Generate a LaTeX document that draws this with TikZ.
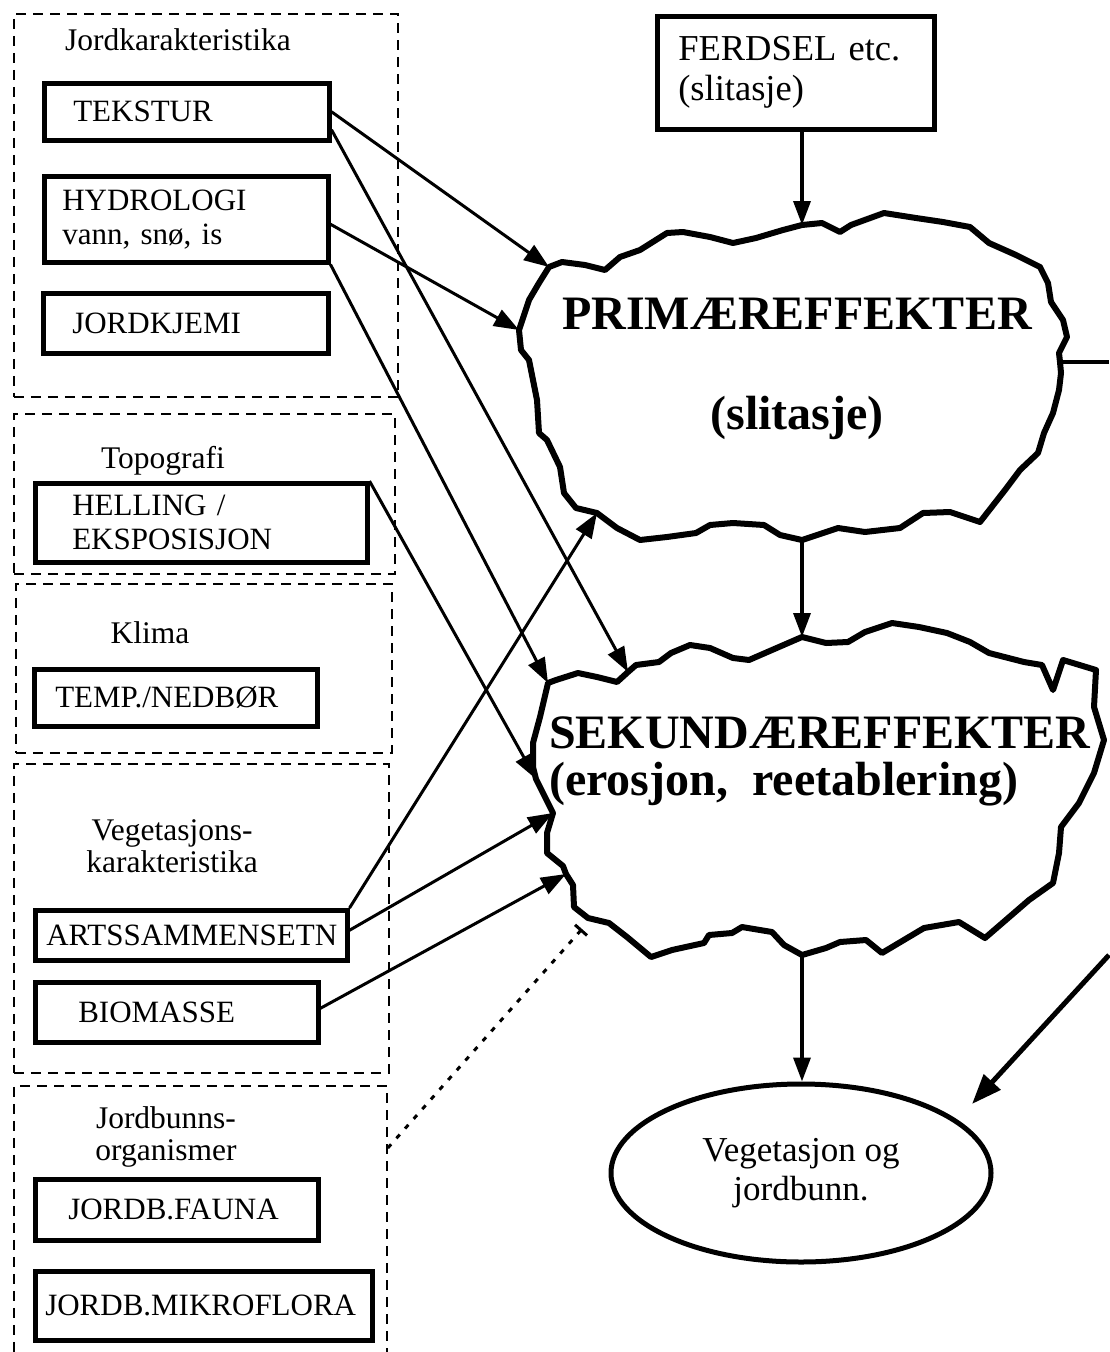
\documentclass[tikz,border=0pt]{standalone}
\usepackage{fontspec}
\setmainfont{Liberation Serif}
\usetikzlibrary{arrows.meta,shapes.geometric}
\begin{document}
\begin{tikzpicture}[x=1pt, y=-1pt,
  grp/.style={draw, line width=1.8pt, dash pattern=on 10pt off 7pt, inner sep=0pt, anchor=north west},
  grplabel/.style={font=\fontsize{31.5}{32}\selectfont, align=center, inner sep=0pt},
  fbox/.style={draw, line width=4.5pt, anchor=north west, align=left, inner ysep=0pt, font=\fontsize{31}{34}\selectfont},
  cloudline/.style={line width=6pt, line join=round},
  cloudtext/.style={font=\bfseries\fontsize{48}{100}\selectfont, inner sep=0pt},
  link/.style={line width=3pt, -{Triangle[length=25pt,width=18pt]}},
  flow/.style={line width=3.5pt, -{Triangle[length=24pt,width=17pt]}},
  feedback/.style={line width=5pt, -{Triangle[length=30pt,width=22pt]}},
  hint/.style={line width=3pt, dash pattern=on 5pt off 8pt, -{Bar[width=16pt]}}
]
\fill[white] (0,0) rectangle (1109,1352);
\useasboundingbox (0,0) rectangle (1109,1352);

% factor groups (dashed frames)
\node[grp, minimum width=384pt, minimum height=383pt] (gJord) at (13,13) {};
\node[grp, minimum width=381pt, minimum height=160pt] (gTopo) at (13,413) {};
\node[grp, minimum width=376pt, minimum height=169pt] (gKlima) at (15,583) {};
\node[grp, minimum width=375pt, minimum height=309pt] (gVeg) at (13,763) {};
\node[grp, minimum width=373pt, minimum height=290pt] (gBunn) at (13,1085) {};

% group headings
\node[grplabel, anchor=base] (lJord) at (178,50) {Jordkarakteristika};
\node[grplabel, anchor=base] (lTopo) at (163,468) {Topografi};
\node[grplabel, anchor=base] (lKlima) at (150,643) {Klima};
\node[grplabel] (lVeg) at (172,846) {Vegetasjons-\\karakteristika};
\node[grplabel] (lBunn) at (166,1137) {Jordbunns-\\organismer};

% factor boxes
\node[fbox, minimum height=57pt, inner xsep=29pt, text width=227pt] (tekstur) at (42,81) {TEKSTUR};
\node[fbox, minimum height=86pt, inner xsep=18pt, text width=248pt] (hydro) at (42,174) {HYDROLOGI\\vann, snø, is};
\node[fbox, minimum height=60pt, inner xsep=29pt, text width=227pt] (kjemi) at (41,291) {JORDKJEMI};
\node[fbox, minimum height=79pt, inner xsep=37pt, text width=258pt] (helling) at (33,481) {HELLING /\\EKSPOSISJON};
\node[fbox, minimum height=57pt, inner xsep=21pt, text width=241pt] (temp) at (32,667) {TEMP./NEDBØR};
\node[fbox, minimum height=50pt, inner xsep=11pt, text width=290pt] (arts) at (33,908) {ARTSSAMMENSETN};
\node[fbox, minimum height=60pt, inner xsep=43pt, text width=197pt] (bio) at (33,980) {BIOMASSE};
\node[fbox, minimum height=61pt, inner xsep=33pt, text width=217pt] (fauna) at (33,1177) {JORDB.FAUNA};
\node[fbox, minimum height=69pt, inner xsep=10pt, text width=317pt] (mikro) at (33,1269) {JORDB.MIKROFLORA};
\node[fbox, minimum height=113pt, inner xsep=21pt, text width=235pt, font=\fontsize{36.5}{40}\selectfont] (ferdsel) at (655,14) {FERDSEL etc.\\(slitasje)};

% primary effects cloud
\coordinate (prim-n) at (802,225);
\coordinate (prim-e) at (1060,362);
\coordinate (prim-s) at (802,540);
\coordinate (prim-sw) at (597,513);
\coordinate (prim-w) at (519,330);
\coordinate (prim-nw) at (549,267);
\draw[cloudline] (prim-n) -- (822,223) -- (840,232) -- (851,225) -- (884,213) -- (916,218) -- (943,222)
  -- (970,227) -- (989,243) -- (1016,255) -- (1040,267) -- (1048,283) -- (1051,302) -- (1063,320)
  -- (1067,337) -- (1059,353) -- (prim-e) -- (1061,373) -- (1059,390) -- (1053,413) -- (1044,433)
  -- (1038,453) -- (1020,470) -- (1005,490) -- (980,522) -- (950,512) -- (923,513) -- (900,528)
  -- (865,532) -- (838,528) -- (prim-s) -- (780,535) -- (764,525) -- (733,523) -- (710,525)
  -- (696,533) -- (667,537) -- (640,540) -- (617,528) -- (prim-sw) -- (576,508) -- (564,493)
  -- (560,467) -- (547,440) -- (539,433) -- (537,400) -- (529,360) -- (521,350) -- (prim-w)
  -- (529,300) -- (539,283) -- (prim-nw) -- (562,262) -- (585,265) -- (605,270) -- (620,257)
  -- (640,250) -- (667,233) -- (683,232) -- (710,237) -- (733,243) -- (756,238) -- (783,230) -- cycle;
\node[cloudtext, align=center] (prim) at (797,369) {PRIMÆREFFEKTER\\(slitasje)};

% secondary effects cloud
\coordinate (sek-n) at (802,637);
\coordinate (sek-s) at (802,955);
\coordinate (sek-sw) at (566,874);
\coordinate (sek-w2) at (553,813);
\coordinate (sek-w) at (536,779);
\coordinate (sek-nw) at (548,683);
\coordinate (sek-tek) at (628,672);
\coordinate (sek-dot) at (582,929);
\draw[cloudline] (sek-n) -- (826,643) -- (848,642) -- (865,632) -- (892,623) -- (919,627) -- (947,633)
  -- (970,642) -- (989,653) -- (1024,662) -- (1042,665) -- (1053,690) -- (1063,660) -- (1096,670)
  -- (1094,707) -- (1104,740) -- (1094,773) -- (1079,803) -- (1061,827) -- (1059,853) -- (1053,883)
  -- (1029,900) -- (985,938) -- (959,922) -- (924,928) -- (882,953) -- (866,940) -- (840,942)
  -- (826,948) -- (sek-s) -- (784,945) -- (772,932) -- (742,927) -- (732,933) -- (709,935)
  -- (704,943) -- (672,950) -- (651,957) -- (627,937) -- (609,923) -- (588,918) -- (574,907)
  -- (573,885) -- (sek-sw) -- (563,866) -- (547,853) -- (547,833) -- (sek-w2) -- (540,787)
  -- (sek-w) -- (533,767) -- (533,743) -- (540,717) -- (sek-nw) -- (556,680) -- (578,673)
  -- (597,677) -- (617,682) -- (sek-tek) -- (636,665) -- (659,662) -- (671,653) -- (690,645)
  -- (710,648) -- (733,658) -- (749,660) -- (772,650) -- cycle;
\node[cloudtext, font=\bfseries\fontsize{48}{47}\selectfont, align=left, anchor=west] (sek) at (549,761)
  {SEKUNDÆREFFEKTER\\(erosjon,\ \ reetablering)};

% outcome
\node[ellipse, draw, line width=5pt, minimum width=380pt, minimum height=178pt, inner sep=0pt,
  font=\fontsize{35}{39}\selectfont, align=center] (veg) at (801,1173) {Vegetasjon og\\jordbunn.};

% main chain
\draw[flow] (ferdsel.south -| prim-n) -- (prim-n);
\draw[flow] (prim-s) -- (sek-n);
\draw[flow] (sek-s) -- (sek-s |- veg.north);

% feedback along the right margin
\coordinate (fb-top) at (1109,362);
\coordinate (fb-bot) at (1109,955);
\coordinate (fb-tip) at (972,1104);
\draw[line width=4.5pt] (prim-e) -- (fb-top);
\draw[feedback] (fb-bot) -- (fb-tip);

% factor influences
\draw[link] (tekstur.east) -- (prim-nw);
\draw[link] ([yshift=-18pt]tekstur.east) -- (sek-tek);
\draw[link] ([yshift=-5pt]hydro.east) -- (prim-w);
\draw[link] (hydro.south east) -- (sek-nw);
\draw[link] (helling.north east) -- (sek-w);
\draw[link] (arts.north east) -- (prim-sw);
\draw[link] ([yshift=5pt]arts.east) -- (sek-w2);
\draw[link] ([yshift=4pt]bio.east) -- (sek-sw);
\draw[hint] ([yshift=-63pt]gBunn.north east) -- (sek-dot);
\end{tikzpicture}
\end{document}
